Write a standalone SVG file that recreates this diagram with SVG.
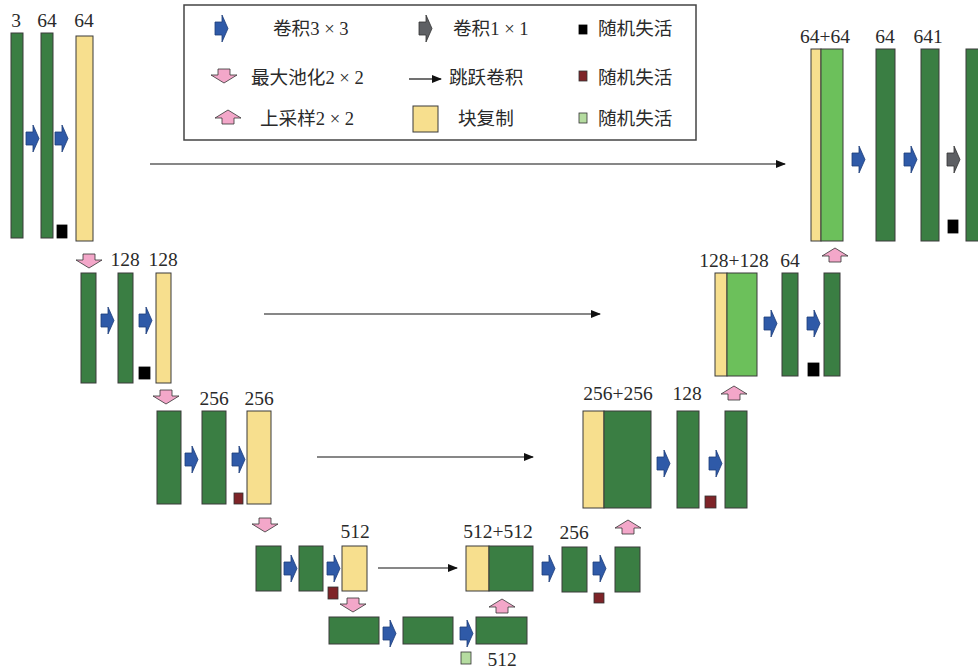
<svg xmlns="http://www.w3.org/2000/svg" width="978" height="672" viewBox="0 0 978 672">
<style>
.g{fill:#3a7e43;stroke:#3a3a3a;stroke-width:1}
.y{fill:#f7df8e;stroke:#3a3a3a;stroke-width:1}
.lg{fill:#6cc05b;stroke:#3a3a3a;stroke-width:1}
.t{font-family:"Liberation Serif","Noto Sans CJK SC",serif;font-size:18.6px;fill:#2a2a2a}
.n{font-family:"Liberation Serif","Noto Sans CJK SC",serif;font-size:19.5px;fill:#2a2a2a;text-anchor:middle}
.sk{stroke:#111;stroke-width:1.2;fill:none}
.blue{fill:#2f5aa8;stroke:#1d3c78;stroke-width:0.8}
.gray{fill:#5e6064;stroke:#333;stroke-width:0.8}
.pink{fill:#f3a7c9;stroke:#333;stroke-width:0.8}
.dk{fill:#000;stroke:#000;stroke-width:0.8}
.dr{fill:#7e2428;stroke:#333;stroke-width:0.8}
.lgs{fill:#b5dca0;stroke:#333;stroke-width:0.8}
</style>
<defs>
<path id="ar" d="M0,7 H7 V0 L13,13.5 L7,27 V20 H0 Z"/>
<path id="ad" d="M7,0 H19 V6 H26 L13,14 L0,6 H7 Z"/>
<path id="au" d="M13,0 L26,8 H19 V14 H7 V8 H0 Z"/>
<marker id="mk" markerWidth="10" markerHeight="8" refX="9" refY="4" orient="auto" markerUnits="userSpaceOnUse">
<path d="M0,0 L10,4 L0,8 Z" fill="#111"/>
</marker>
</defs>
<rect width="978" height="672" fill="#fff"/>

<g id="legend">
<rect x="184" y="5" width="512" height="135" fill="#fff" stroke="#444" stroke-width="1.5"/>
<use href="#ar" class="blue" x="215" y="15"/>
<text class="t" x="273" y="35">卷积3 × 3</text>
<use href="#ar" class="gray" x="419" y="15"/>
<text class="t" x="453" y="35">卷积1 × 1</text>
<rect class="dk" x="579" y="25" width="8" height="9"/>
<text class="t" x="598" y="35">随机失活</text>
<use href="#ad" class="pink" x="211" y="69"/>
<text class="t" x="251" y="84">最大池化2 × 2</text>
<line class="sk" x1="409" y1="79" x2="441" y2="79" marker-end="url(#mk)"/>
<text class="t" x="449" y="84">跳跃卷积</text>
<rect class="dr" x="579" y="71" width="8" height="10"/>
<text class="t" x="598" y="84">随机失活</text>
<use href="#au" class="pink" x="215" y="110"/>
<text class="t" x="260" y="125">上采样2 × 2</text>
<rect class="y" x="413" y="106" width="25" height="26"/>
<text class="t" x="458" y="125">块复制</text>
<rect class="lgs" x="579" y="113" width="8" height="10"/>
<text class="t" x="598" y="125">随机失活</text>
</g>

<g id="connectors">
<line class="sk" x1="150" y1="164" x2="785" y2="164" marker-end="url(#mk)"/>
<line class="sk" x1="264" y1="314" x2="600" y2="314" marker-end="url(#mk)"/>
<line class="sk" x1="317" y1="457" x2="533" y2="457" marker-end="url(#mk)"/>
<line class="sk" x1="378" y1="568" x2="457" y2="568" marker-end="url(#mk)"/>
</g>

<g id="enc1">
<rect class="g" x="11" y="33" width="12" height="205"/>
<rect class="g" x="41" y="33" width="12" height="205"/>
<rect class="y" x="76" y="36" width="17" height="205"/>
<use href="#ar" class="blue" x="26" y="125"/>
<use href="#ar" class="blue" x="55" y="125"/>
<rect class="dk" x="57" y="225" width="10" height="13"/>
<text class="n" x="16" y="27">3</text>
<text class="n" x="47" y="27">64</text>
<text class="n" x="84" y="27">64</text>
<use href="#ad" class="pink" x="76" y="254"/>
</g>

<g id="enc2">
<rect class="g" x="81" y="273" width="15" height="110"/>
<rect class="g" x="118" y="273" width="15" height="110"/>
<rect class="y" x="156" y="273" width="15" height="110"/>
<use href="#ar" class="blue" x="101" y="307"/>
<use href="#ar" class="blue" x="139" y="307"/>
<rect class="dk" x="139" y="367" width="11" height="12"/>
<text class="n" x="125" y="266">128</text>
<text class="n" x="163" y="266">128</text>
<use href="#ad" class="pink" x="153" y="390"/>
</g>

<g id="enc3">
<rect class="g" x="157" y="411" width="24" height="93"/>
<rect class="g" x="202" y="411" width="24" height="93"/>
<rect class="y" x="247" y="411" width="24" height="93"/>
<use href="#ar" class="blue" x="185" y="446"/>
<use href="#ar" class="blue" x="232" y="446"/>
<rect class="dr" x="234" y="493" width="9" height="11"/>
<text class="n" x="214" y="405">256</text>
<text class="n" x="259" y="405">256</text>
<use href="#ad" class="pink" x="252" y="518"/>
</g>

<g id="enc4">
<rect class="g" x="256" y="546" width="25" height="45"/>
<rect class="g" x="299" y="546" width="24" height="45"/>
<rect class="y" x="342" y="546" width="25" height="45"/>
<use href="#ar" class="blue" x="284" y="555"/>
<use href="#ar" class="blue" x="327" y="555"/>
<rect class="dr" x="328" y="587" width="10" height="12"/>
<text class="n" x="355" y="538">512</text>
<use href="#ad" class="pink" x="340" y="598"/>
</g>

<g id="bottleneck">
<rect class="g" x="329" y="617" width="50" height="27"/>
<rect class="g" x="403" y="617" width="50" height="27"/>
<rect class="g" x="476" y="617" width="51" height="27"/>
<use href="#ar" class="blue" x="383" y="620"/>
<use href="#ar" class="blue" x="460" y="620"/>
<rect class="lgs" x="461" y="652" width="10" height="12"/>
<text class="n" x="502" y="666">512</text>
<use href="#au" class="pink" x="489" y="599"/>
</g>

<g id="dec4">
<rect class="y" x="466" y="546" width="23" height="45"/>
<rect class="g" x="489" y="546" width="44" height="45"/>
<rect class="g" x="562" y="547" width="25" height="45"/>
<rect class="g" x="615" y="547" width="25" height="45"/>
<use href="#ar" class="blue" x="542" y="555"/>
<use href="#ar" class="blue" x="593" y="555"/>
<rect class="dr" x="594" y="593" width="10" height="10"/>
<text class="n" x="498" y="538">512+512</text>
<text class="n" x="574" y="539">256</text>
<use href="#au" class="pink" x="615" y="520"/>
</g>

<g id="dec3">
<rect class="y" x="583" y="411" width="21" height="97"/>
<rect class="g" x="604" y="411" width="47" height="97"/>
<rect class="g" x="677" y="411" width="22" height="97"/>
<rect class="g" x="725" y="411" width="22" height="97"/>
<use href="#ar" class="blue" x="657" y="450"/>
<use href="#ar" class="blue" x="709" y="450"/>
<rect class="dr" x="705" y="496" width="11" height="12"/>
<text class="n" x="618" y="400">256+256</text>
<text class="n" x="687" y="400">128</text>
<use href="#au" class="pink" x="721" y="386"/>
</g>

<g id="dec2">
<rect class="y" x="715" y="273" width="12" height="103"/>
<rect class="lg" x="727" y="273" width="30" height="103"/>
<rect class="g" x="782" y="273" width="16" height="103"/>
<rect class="g" x="824" y="273" width="16" height="103"/>
<use href="#ar" class="blue" x="764" y="310"/>
<use href="#ar" class="blue" x="807" y="310"/>
<rect class="dk" x="808" y="363" width="11" height="13"/>
<text class="n" x="734" y="267">128+128</text>
<text class="n" x="790" y="267">64</text>
<use href="#au" class="pink" x="822" y="248"/>
</g>

<g id="dec1">
<rect class="y" x="811" y="49" width="10" height="192"/>
<rect class="lg" x="821" y="49" width="22" height="192"/>
<rect class="g" x="876" y="49" width="19" height="192"/>
<rect class="g" x="921" y="49" width="18" height="192"/>
<rect class="g" x="966" y="49" width="19" height="192"/>
<use href="#ar" class="blue" x="852" y="146"/>
<use href="#ar" class="blue" x="904" y="146"/>
<use href="#ar" class="gray" x="947" y="146"/>
<rect class="dk" x="948" y="220" width="10" height="13"/>
<text class="n" x="825" y="43">64+64</text>
<text class="n" x="885" y="43">64</text>
<text class="n" x="928" y="43">641</text>
</g>
</svg>
